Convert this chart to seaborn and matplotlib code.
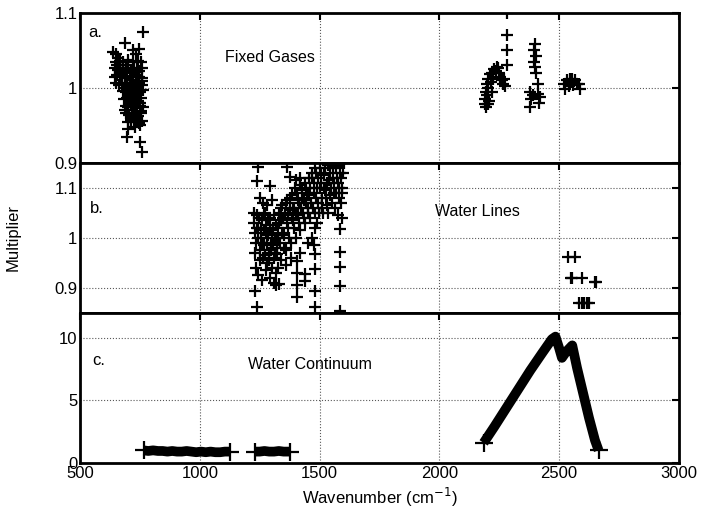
import numpy as np
import pandas as pd
import matplotlib
matplotlib.use("Agg")
import matplotlib.pyplot as plt
import seaborn as sns

# ---- panel a: fixed gases ----
gas_wn = [650, 665, 680, 700, 720, 740, 755,
          648, 658, 668, 678, 690, 700, 712, 724, 736, 748, 760,
          645, 655, 666, 676, 688, 698, 710, 722, 734, 746, 758,
          650, 662, 674, 686, 698, 710, 722, 734, 746, 758,
          680, 692, 704, 716, 728, 740, 752, 762,
          684, 696, 708, 720, 732, 744, 756,
          690, 702, 714, 726, 738, 750, 764,
          694, 706, 718, 730, 742, 754,
          700, 712, 724, 736, 748, 760,
          763, 688, 638, 650, 720, 745, 696, 750, 759, 700, 730, 752, 735, 660,
          654, 672, 694, 716, 738, 757, 683, 705, 727, 749, 688, 710, 732, 754,
          2190, 2192, 2195, 2198, 2200, 2203, 2205, 2208, 2212, 2215, 2218, 2222,
          2226, 2230, 2235, 2240, 2245, 2250, 2255, 2260, 2265, 2270, 2275,
          2282, 2282, 2282, 2282, 2195, 2205,
          2399, 2397, 2402, 2395, 2400, 2405, 2412, 2380, 2382, 2378, 2390, 2412, 2420, 2415,
          2520, 2535, 2545, 2555, 2565, 2575, 2585, 2540, 2560, 2550, 2525, 2588]
gas_val = [1.035, 1.036, 1.034, 1.037, 1.035, 1.036, 1.034,
           1.026, 1.024, 1.027, 1.025, 1.023, 1.026, 1.024, 1.027, 1.025, 1.023, 1.026,
           1.015, 1.017, 1.014, 1.016, 1.015, 1.013, 1.016, 1.014, 1.017, 1.015, 1.013,
           1.006, 1.004, 1.005, 1.007, 1.004, 1.006, 1.003, 1.005, 1.006, 1.004,
           0.996, 0.994, 0.997, 0.995, 0.993, 0.996, 0.994, 0.997,
           0.985, 0.987, 0.984, 0.986, 0.985, 0.983, 0.986,
           0.976, 0.974, 0.977, 0.975, 0.973, 0.976, 0.974,
           0.966, 0.964, 0.967, 0.965, 0.963, 0.966,
           0.955, 0.957, 0.954, 0.956, 0.953, 0.956,
           1.074, 1.060, 1.048, 1.045, 1.050, 1.052, 0.934, 0.928, 0.915, 0.945, 0.948, 0.950, 1.045, 1.040,
           1.030, 1.020, 1.031, 1.010, 1.021, 1.009, 1.000, 0.990, 1.001, 0.980, 0.970, 0.981, 0.960, 0.969,
           0.978, 0.985, 0.995, 1.005, 0.990, 1.012, 1.000, 0.982, 1.018, 1.008, 0.995, 1.020,
           1.012, 1.025, 1.022, 1.028, 1.026, 1.020, 1.015, 1.010, 1.005, 1.012, 1.002,
           1.100, 1.071, 1.050, 1.031, 0.975, 0.978,
           1.058, 1.050, 1.042, 1.035, 1.028, 1.020, 1.005, 0.995, 0.985, 0.975, 0.990, 0.992, 0.988, 0.980,
           1.005, 1.010, 1.012, 1.012, 1.010, 1.005, 1.005, 1.003, 1.004, 1.008, 0.998, 0.998]

# ---- panel b: water lines ----
h2o_wn = [1228, 1232, 1236, 1240, 1245, 1250, 1255, 1258, 1262, 1266, 1270, 1274,
          1278, 1282, 1286, 1290, 1294, 1298, 1302, 1306, 1310, 1314, 1318, 1322,
          1243, 1238, 1293, 1250, 1265, 1280, 1300,
          1230, 1238, 1235, 1245, 1260, 1275, 1295, 1310, 1320,
          1325, 1330, 1335, 1340, 1345, 1350, 1355, 1360, 1365, 1370, 1375, 1380,
          1385, 1390, 1395, 1400, 1405, 1410, 1415, 1420, 1425, 1430, 1435, 1440,
          1445, 1450, 1455, 1460,
          1364, 1376, 1400, 1420,
          1322, 1325, 1330, 1340, 1360, 1380, 1406, 1406, 1406, 1406, 1439, 1439, 1420, 1450,
          1465, 1470, 1475, 1480, 1485, 1490, 1495, 1500, 1505, 1510, 1515, 1520,
          1525, 1530, 1535, 1540, 1545, 1550, 1555, 1560, 1565, 1570, 1575, 1580,
          1585, 1590, 1595, 1600, 1590, 1575,
          1481, 1481, 1481, 1481, 1481, 1470, 1475, 1585, 1585, 1585, 1585, 1585, 1595, 1490,
          1226, 1231, 1237, 1242, 1247, 1252, 1256, 1261, 1267, 1272, 1276, 1281,
          1285, 1289, 1293, 1297, 1301, 1305, 1309, 1313, 1317, 1321,
          1327, 1332, 1338, 1343, 1348, 1353, 1358, 1363, 1368, 1373, 1378, 1383,
          1388, 1393, 1398, 1403, 1408, 1413, 1418, 1423, 1428, 1433, 1438, 1443,
          1448, 1453, 1458,
          1462, 1467, 1472, 1477, 1482, 1487, 1492, 1497, 1502, 1507, 1512, 1517,
          1522, 1527, 1532, 1537, 1542, 1547, 1552, 1557, 1562, 1567, 1572, 1577,
          1582, 1587, 1592, 1597, 1560, 1545, 1595,
          2537, 2566, 2550, 2556, 2595, 2654, 2650, 2585, 2595, 2605, 2615, 2625]
h2o_val = [1.030, 1.010, 0.990, 1.045, 1.020, 0.975, 1.000, 1.035, 0.960, 1.015, 0.985, 1.050,
           1.025, 0.950, 1.005, 0.970, 1.040, 0.990, 0.940, 1.020, 0.960, 1.000, 0.930, 0.980,
           1.142, 1.114, 1.104, 1.080, 1.070, 1.065, 1.075,
           0.894, 0.862, 0.940, 0.925, 0.915, 0.935, 0.920, 0.910, 0.905,
           1.020, 1.050, 0.990, 1.035, 1.065, 1.005, 1.045, 0.975, 1.075, 1.020, 1.055, 0.990,
           1.085, 1.035, 1.060, 1.000, 1.090, 1.045, 1.070, 1.015, 1.095, 1.050, 1.075, 1.030,
           1.100, 1.060, 1.085, 1.040,
           1.142, 1.122, 1.115, 1.120,
           0.968, 0.940, 0.908, 0.955, 0.945, 0.960, 0.954, 0.930, 0.905, 0.882, 0.928, 0.914, 0.970, 0.990,
           1.070, 1.120, 1.090, 1.050, 1.130, 1.100, 1.070, 1.140, 1.110, 1.080, 1.050, 1.125,
           1.095, 1.065, 1.145, 1.115, 1.085, 1.150, 1.120, 1.090, 1.060, 1.140, 1.110, 1.080,
           1.150, 1.120, 1.100, 1.150, 1.070, 1.045,
           1.020, 0.968, 0.938, 0.894, 0.862, 1.000, 0.985, 1.018, 0.972, 0.942, 0.904, 0.854, 1.040, 1.030,
           1.050, 0.970, 1.020, 1.000, 1.040, 0.955, 1.020, 0.990, 1.045, 0.965, 1.010, 0.990,
           1.035, 0.955, 1.015, 0.975, 1.010, 0.985, 1.045, 0.970, 1.025, 1.000,
           1.000, 1.030, 1.060, 1.010, 1.040, 0.980, 1.070, 1.030, 1.050, 1.000, 1.080, 1.040,
           1.060, 1.020, 1.100, 1.050, 1.075, 1.030, 1.105, 1.060, 1.080, 1.040, 1.110, 1.070,
           1.090, 1.050, 1.120,
           1.100, 1.130, 1.060, 1.110, 1.140, 1.080, 1.120, 1.050, 1.100, 1.130, 1.060, 1.100,
           1.140, 1.080, 1.110, 1.050, 1.130, 1.100, 1.070, 1.140, 1.110, 1.090, 1.120, 1.150,
           1.100, 1.130, 1.090, 1.130, 1.150, 1.150, 1.150,
           0.962, 0.962, 0.920, 0.920, 0.920, 0.912, 0.912, 0.870, 0.870, 0.870, 0.870, 0.870]

# ---- panel c: water continuum (three separate bands) ----
cont1_wn = [765, 785, 805, 825, 845, 865, 885, 905, 925, 945, 965, 985, 1005, 1025, 1045, 1065, 1085, 1105, 1125]
cont1_val = [1.0, 0.95, 1.0, 0.95, 0.95, 0.9, 0.95, 0.9, 0.9, 0.95, 0.9, 0.85, 0.9, 0.85, 0.9, 0.85, 0.85, 0.9, 0.9]
cont2_wn = [1232, 1250, 1270, 1290, 1310, 1330, 1350, 1375]
cont2_val = [0.9, 0.9, 0.95, 0.9, 0.9, 0.95, 0.9, 0.9]
cont3_wn = [2185, 2230, 2280, 2330, 2380, 2430, 2470, 2485, 2500, 2512, 2530, 2555, 2575, 2600, 2625, 2650, 2665]
cont3_val = [1.6, 2.9, 4.4, 5.9, 7.4, 8.8, 9.9, 10.1, 9.2, 8.4, 8.9, 9.4, 7.6, 5.6, 3.6, 1.8, 1.0]

x_ticks = [500, 1000, 1500, 2000, 2500, 3000]

sns.set_theme(style="white")
plt.rcParams['font.family'] = ['Liberation Sans', 'DejaVu Sans']
plt.rcParams['text.color'] = 'black'
plt.rcParams['axes.labelcolor'] = 'black'

BLACK = '#000000'

fig, axes = plt.subplots(3, 1, sharex=True, figsize=(7.02, 5.16), dpi=100)
plt.subplots_adjust(left=0.114, right=0.967, top=0.975, bottom=0.103, hspace=0)
ax_a, ax_b, ax_c = axes

sns.scatterplot(x=gas_wn, y=gas_val, marker='+', s=85, color=BLACK, linewidth=1.6, ax=ax_a)
sns.scatterplot(x=h2o_wn, y=h2o_val, marker='+', s=85, color=BLACK, linewidth=1.6, ax=ax_b)
for xs, ys in [(cont1_wn, cont1_val), (cont2_wn, cont2_val), (cont3_wn, cont3_val)]:
    sns.lineplot(x=xs, y=ys, color=BLACK, lw=7, sort=False, estimator=None,
                 solid_capstyle='butt', ax=ax_c)
    ends_x = [xs[0], xs[-1]]
    ends_y = [ys[0], ys[-1]]
    sns.scatterplot(x=ends_x, y=ends_y, marker='+', s=160, color=BLACK, linewidth=1.6, ax=ax_c)

ax_a.set_ylim(0.9, 1.1)
ax_a.set_yticks([0.9, 1.0, 1.1])
ax_a.set_yticklabels(['0.9', '1', '1.1'])
ax_b.set_ylim(0.85, 1.15)
ax_b.set_yticks([0.9, 1.0, 1.1])
ax_b.set_yticklabels(['0.9', '1', '1.1'])
ax_c.set_ylim(0, 12)
ax_c.set_yticks([0, 5, 10])
ax_c.set_xlim(500, 3000)
ax_c.set_xticks(x_ticks)

for ax in axes:
    ax.grid(True, linestyle=':', color='0.35', lw=0.8)
    ax.tick_params(direction='in', top=True, right=True, length=5, width=1.5,
                   labelsize=12, colors=BLACK, pad=2)
    for sp in ax.spines.values():
        sp.set_linewidth(2)
        sp.set_color(BLACK)
    ax.set_axisbelow(True)

ax_a.text(533, 1.068, 'a.', fontsize=12)
ax_a.text(1105, 1.034, 'Fixed Gases', fontsize=11.5)
ax_b.text(542, 1.05, 'b.', fontsize=12)
ax_b.text(1982, 1.044, 'Water Lines', fontsize=11.5)
ax_c.text(550, 7.8, 'c.', fontsize=12)
ax_c.text(1201, 7.5, 'Water Continuum', fontsize=11.5)

ax_b.set_ylabel('Multiplier', fontsize=12, labelpad=24)
ax_c.set_xlabel('Wavenumber (cm$^{-1}$)', fontsize=12, labelpad=4)

fig.savefig('out.png', dpi=100)
